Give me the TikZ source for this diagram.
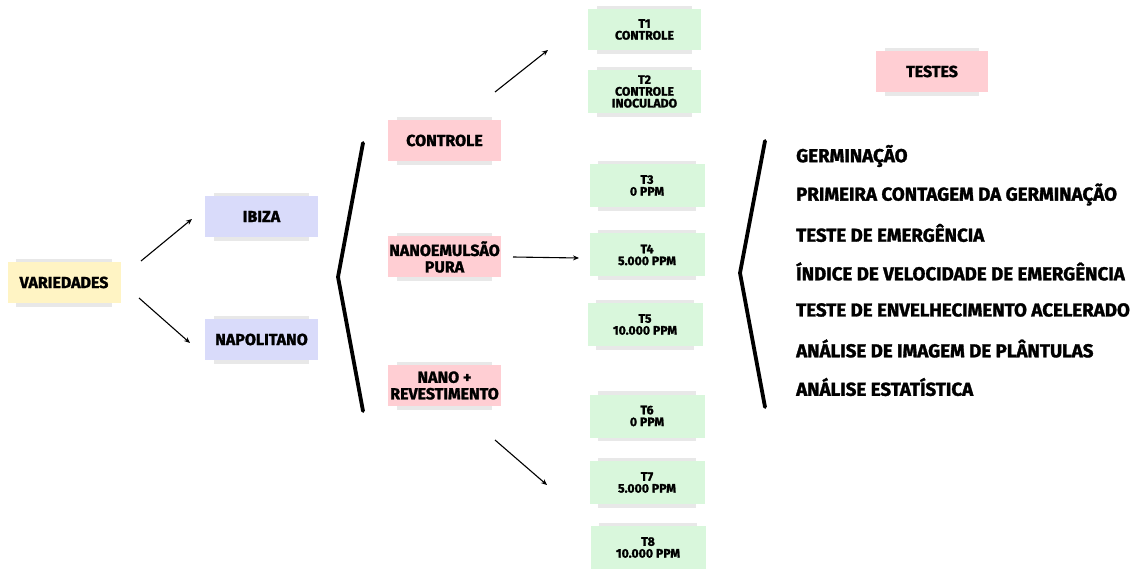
\documentclass[tikz,border=0pt]{standalone}
\usepackage{fontspec}
\setmainfont{Fira Sans}[BoldFeatures={FakeBold=1.6}]
\usetikzlibrary{arrows.meta,backgrounds}
\definecolor{cyellow}{HTML}{FFF4C4}
\definecolor{clav}{HTML}{D9DBFA}
\definecolor{cpink}{HTML}{FFCED3}
\definecolor{cgreen}{HTML}{D9F7DC}
\tikzset{
  box/.style={rectangle, inner sep=0pt, align=center, font=\bfseries\fontsize{16}{16.5}\selectfont},
  ybox/.style={box, fill=cyellow, minimum width=113pt, minimum height=41pt},
  lbox/.style={box, fill=clav, minimum width=113pt, minimum height=41pt},
  pbox/.style={box, fill=cpink, minimum width=113pt, minimum height=41pt},
  gbox/.style={box, fill=cgreen, minimum width=115pt, minimum height=43pt,
    font=\bfseries\fontsize{12.3}{11.8}\selectfont},
  shade box/.style={fill=black, opacity=0.09},
  arr/.style={-{Stealth[length=6pt,width=5pt]}, line width=1.1pt},
  brace/.style={line width=3.8pt, line join=round, line cap=round},
  item/.style={anchor=west, inner sep=0pt, font=\bfseries\fontsize{18.7}{18.7}\selectfont}
}
\begin{document}
\begin{tikzpicture}[x=1pt,y=-1pt]
\useasboundingbox (0,0) rectangle (1143,569);
% left boxes
\node[ybox] (var) at (64,282.5) {VARIEDADES};
\node[lbox] (ibiza) at (261.5,216.5) {IBIZA};
\node[lbox] (napo) at (261.5,339.5) {NAPOLITANO};
\coordinate (a1s) at (141,261); \coordinate (a1e) at (192,219);
\coordinate (a2s) at (139,298); \coordinate (a2e) at (190,343);
\draw[arr] (a1s) -- (a1e);
\draw[arr] (a2s) -- (a2e);
% bracket 1
\coordinate (b1t) at (363,143); \coordinate (b1m) at (338,277); \coordinate (b1b) at (363,411);
\draw[brace] (b1t) -- (b1m) -- (b1b);
% treatment boxes
\node[pbox] (ctrl) at (444.5,140.5) {CONTROLE};
\node[pbox] (nano) at (444.5,257) {NANOEMULSÃO\\PURA};
\node[pbox] (nrev) at (444.5,385.5) {NANO +\\REVESTIMENTO};
% arrows to T boxes
\coordinate (c1s) at (495,92); \coordinate (c1e) at (548,50);
\coordinate (c2s) at (513,257); \coordinate (c2e) at (579,258);
\coordinate (c3s) at (495,440); \coordinate (c3e) at (547,485);
\draw[arr] (c1s) -- (c1e);
\draw[arr] (c2s) -- (c2e);
\draw[arr] (c3s) -- (c3e);
% green boxes
\node[gbox, minimum width=113pt, minimum height=41pt] (t1) at (644.5,29.5) {T1\\CONTROLE};
\node[gbox, minimum width=113pt, minimum height=43pt] (t2) at (644.5,91.5) {T2\\CONTROLE\\INOCULADO};
\node[gbox] (t3) at (647,185.5) {T3\\0 PPM};
\node[gbox] (t4) at (647,255) {T4\\5.000 PPM};
\node[gbox] (t5) at (645,324.5) {T5\\10.000 PPM};
\node[gbox] (t6) at (647,416) {T6\\0 PPM};
\node[gbox] (t7) at (647,482.5) {T7\\5.000 PPM};
\node[gbox] (t8) at (648,547.5) {T8\\10.000 PPM};
% testes
\node[pbox, minimum width=112pt] (testes) at (932,71.5) {TESTES};
% soft shadows behind boxes
\begin{scope}[on background layer]
\foreach \n in {var,ibiza,napo,ctrl,nano,nrev,t1,t2,t3,t4,t5,t6,t7,t8,testes}{
  \fill[shade box] ([xshift=9pt,yshift=3pt]\n.north west) rectangle ([xshift=-9pt,yshift=-3.5pt]\n.south east);
}
\end{scope}
\coordinate (b2t) at (765,141); \coordinate (b2m) at (740,273); \coordinate (b2b) at (765,407);
\draw[brace] (b2t) -- (b2m) -- (b2b);
\node[item] (i1) at (796,156) {GERMINAÇÃO};
\node[item] (i2) at (796,194.5) {PRIMEIRA CONTAGEM DA GERMINAÇÃO};
\node[item] (i3) at (796,233) {TESTE DE EMERGÊNCIA};
\node[item] (i4) at (796,271.5) {ÍNDICE DE VELOCIDADE DE EMERGÊNCIA};
\node[item] (i5) at (796,310) {TESTE DE ENVELHECIMENTO ACELERADO};
\node[item] (i6) at (796,348.5) {ANÁLISE DE IMAGEM DE PLÂNTULAS};
\node[item] (i7) at (796,387) {ANÁLISE ESTATÍSTICA};
\end{tikzpicture}
\end{document}
